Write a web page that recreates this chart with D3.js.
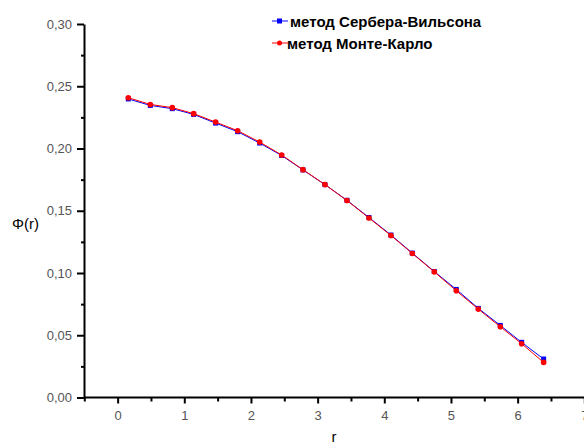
<!DOCTYPE html>
<html>
<head>
<meta charset="utf-8">
<script src="https://cdn.jsdelivr.net/npm/d3@7"></script>
<style>
  body { margin: 0; background: white; }
  svg { display: block; }
</style>
</head>
<body>
<div id="canvas"></div>
<script>
"use strict"

/* data */
let rValues = [0.16, 0.49, 0.82, 1.14, 1.47, 1.80, 2.13, 2.46, 2.78, 3.11,
               3.44, 3.77, 4.10, 4.42, 4.75, 5.08, 5.41, 5.74, 6.06, 6.39];
let cwValues = [0.2398, 0.2346, 0.2320, 0.2274, 0.2204, 0.2135, 0.2044, 0.1944, 0.1828, 0.1710,
                0.1584, 0.1446, 0.1305, 0.1160, 0.1012, 0.0868, 0.0716, 0.0579, 0.0443, 0.0309];
let mcValues = [0.2408, 0.2354, 0.2328, 0.2280, 0.2212, 0.2143, 0.2052, 0.1948, 0.1830, 0.1710,
                0.1582, 0.1442, 0.1301, 0.1157, 0.1009, 0.0857, 0.0710, 0.0568, 0.0432, 0.0282];
let seriesNames = ["метод Сербера-Вильсона", "метод Монте-Карло"];
let xTicks = [0, 1, 2, 3, 4, 5, 6, 7];
let xMinor = [-0.5, 0.5, 1.5, 2.5, 3.5, 4.5, 5.5, 6.5];
let yTicks = [0, 0.05, 0.10, 0.15, 0.20, 0.25, 0.30];
let yMinor = [0.025, 0.075, 0.125, 0.175, 0.225, 0.275];

let drawing = d3.select("#canvas")
    .append("svg")
    .attr("width", 584)
    .attr("height", 448);

let x = d3.scaleLinear().domain([-0.5, 7]).range([84.3, 584.3]);
let y = d3.scaleLinear().domain([0, 0.30]).range([397.5, 24]);

let ru = d3.formatLocale({decimal: ",", thousands: " ", grouping: [3], currency: ["", ""]});
let fmt = ru.format(".2f");

/* minor ticks */
drawing.append("g")
  .attr("transform", "translate(0,397.5)")
  .call(d3.axisBottom(x).tickValues(xMinor).tickSize(4).tickFormat(""))
  .call(g => g.select(".domain").remove());
drawing.append("g")
  .attr("transform", "translate(84,0)")
  .call(d3.axisLeft(y).tickValues(yMinor).tickSize(3).tickFormat(""))
  .call(g => g.select(".domain").remove());

/* x axis */
let xAxis = drawing.append("g")
  .attr("transform", "translate(0,397.5)")
  .call(d3.axisBottom(x).tickValues(xTicks).tickSize(6).tickSizeOuter(0).tickPadding(7));
xAxis.select(".domain").attr("stroke-width", 2).attr("d", "M84,0H584");

/* y axis */
let yAxis = drawing.append("g")
  .attr("transform", "translate(84,0)")
  .call(d3.axisLeft(y).tickValues(yTicks).tickSize(7).tickSizeOuter(0).tickFormat(fmt).tickPadding(5));
yAxis.select(".domain").attr("stroke-width", 2);

drawing.selectAll(".tick line").attr("stroke-width", 2).attr("stroke", "black");
drawing.selectAll(".tick text")
  .attr("font-family", "Liberation Sans, Arial, sans-serif")
  .attr("font-size", 13)
  .attr("fill", "#555");

/* axis titles */
drawing.append("text")
  .attr("x", 12)
  .attr("y", 229)
  .attr("font-family", "Liberation Sans, Arial, sans-serif")
  .attr("font-size", 15)
  .text("Φ(r)");
drawing.append("text")
  .attr("x", 334)
  .attr("y", 442)
  .attr("text-anchor", "middle")
  .attr("font-family", "Liberation Sans, Arial, sans-serif")
  .attr("font-size", 15)
  .text("r");

let line = d3.line()
  .x(d => x(d[0]))
  .y(d => y(d[1]));

let cw = rValues.map((r, i) => [r, cwValues[i]]);
let mc = rValues.map((r, i) => [r, mcValues[i]]);

/* Сербер-Вильсон, blue squares */
drawing.append("path")
  .attr("d", line(cw))
  .attr("fill", "none")
  .attr("stroke", "#0000ff")
  .attr("stroke-width", 1);
drawing.selectAll(".sq")
  .data(cw)
  .enter().append("rect")
  .attr("x", d => x(d[0]) - 2.5)
  .attr("y", d => y(d[1]) - 2.5)
  .attr("width", 5)
  .attr("height", 5)
  .attr("fill", "#0000ff");

/* Монте-Карло, red circles */
drawing.append("path")
  .attr("d", line(mc))
  .attr("fill", "none")
  .attr("stroke", "#ff0000")
  .attr("stroke-width", 1);
drawing.selectAll(".dot")
  .data(mc)
  .enter().append("circle")
  .attr("cx", d => x(d[0]))
  .attr("cy", d => y(d[1]))
  .attr("r", 2.8)
  .attr("fill", "#ff0000");

/* legend */
let legendColors = ["#0000ff", "#ff0000"];
let legend = drawing.selectAll(".legend")
  .data(seriesNames)
  .enter().append("g")
  .attr("transform", (d, i) => "translate(272," + (21 + i * 22) + ")");
legend.append("line")
  .attr("x1", 0).attr("x2", 16)
  .attr("y1", 0).attr("y2", 0)
  .attr("stroke", (d, i) => legendColors[i])
  .attr("stroke-width", 1);
legend.filter((d, i) => i == 0).append("rect")
  .attr("x", 5).attr("y", -2.5).attr("width", 5).attr("height", 5)
  .attr("fill", "#0000ff");
legend.filter((d, i) => i == 1).append("circle")
  .attr("cx", 7.5).attr("cy", 0).attr("r", 2.5)
  .attr("fill", "#ff0000");
legend.append("text")
  .attr("x", (d, i) => i == 0 ? 18 : 15)
  .attr("y", 5.5)
  .attr("font-family", "Liberation Sans, Arial, sans-serif")
  .attr("font-size", 15)
  .attr("font-weight", "bold")
  .text(d => d);
</script>
</body>
</html>
